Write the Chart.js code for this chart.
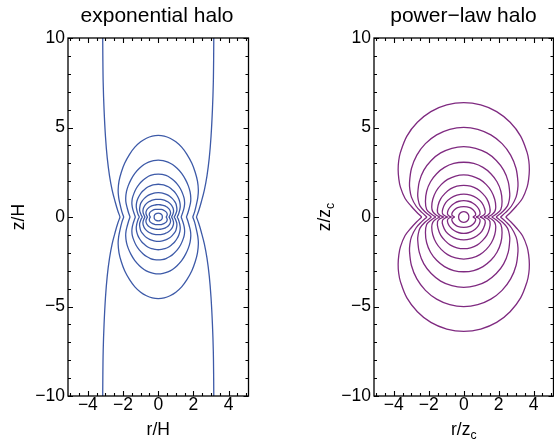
<!DOCTYPE html>
<html><head><meta charset="utf-8">
<script src="https://cdn.jsdelivr.net/npm/chart.js@4.4.1/dist/chart.umd.min.js"></script>
<style>
html,body{margin:0;padding:0;background:#fff;width:554px;height:445px;overflow:hidden}
.p{position:absolute;top:0;width:277px;height:445px}
canvas{display:block}
</style></head><body>
<div class="p" style="left:0"><canvas id="c1" width="277" height="445"></canvas></div>
<div class="p" style="left:277px"><canvas id="c2" width="277" height="445"></canvas></div>
<script>
// ---- tick labels ----
const xTicks = [-4, -2, 0, 2, 4];
const yTicks = [-10, -5, 0, 5, 10];

// ---- exponential halo: open contour (upper-right branch, from z=0 cusp upward) ----
const expOpen = [[2.17,0],[2.30,0.35],[2.45,0.85],[2.62,1.5],[2.77,2.3],[2.90,3.3],[3.00,4.5],[3.08,6.0],[3.13,7.5],[3.15,9.0],[3.16,10.6]];
// closed contours, upper-right quadrant, from cusp (r,0) to top (0,z)
const expRing1 = [[1.96,0],[2.07,0.30],[2.17,0.70],[2.25,1.10],[2.28,1.50],[2.23,2.00],[2.10,2.50],[1.91,3.00],[1.63,3.50],[1.33,3.90],[1.00,4.20],[0.67,4.40],[0.34,4.52],[0,4.56]];
const expRing2 = [[1.60,0],[1.68,0.21],[1.76,0.49],[1.83,0.77],[1.85,1.05],[1.81,1.40],[1.71,1.74],[1.55,2.09],[1.33,2.44],[1.07,2.72],[0.81,2.93],[0.55,3.07],[0.27,3.15],[0,3.18]];
const expRing3 = [[1.30,0],[1.36,0.16],[1.43,0.37],[1.48,0.58],[1.50,0.79],[1.47,1.05],[1.38,1.32],[1.26,1.58],[1.08,1.84],[0.87,2.05],[0.66,2.21],[0.44,2.32],[0.22,2.38],[0,2.40]];
const expRing4 = [[1.07,0],[1.14,0.12],[1.19,0.28],[1.23,0.44],[1.25,0.60],[1.23,0.80],[1.17,1.00],[1.07,1.20],[0.92,1.41],[0.75,1.56],[0.57,1.69],[0.38,1.77],[0.19,1.81],[0,1.83]];
const expRing5 = [[0.90,0],[0.96,0.09],[1.01,0.21],[1.05,0.33],[1.06,0.45],[1.04,0.60],[1.00,0.75],[0.92,0.89],[0.79,1.04],[0.65,1.16],[0.49,1.25],[0.33,1.31],[0.17,1.35],[0,1.36]];
const expRing6 = [[0.75,0],[0.79,0.065],[0.83,0.15],[0.86,0.24],[0.87,0.33],[0.86,0.43],[0.82,0.54],[0.76,0.65],[0.66,0.76],[0.54,0.85],[0.41,0.91],[0.28,0.955],[0.14,0.98],[0,0.99]];
const expRing7 = [[0.60,0],[0.64,0.046],[0.67,0.106],[0.69,0.166],[0.70,0.227],[0.69,0.30],[0.66,0.38],[0.61,0.45],[0.53,0.53],[0.43,0.59],[0.33,0.635],[0.22,0.666],[0.11,0.684],[0,0.69]];
const expRing8 = [[0.44,0],[0.48,0.05],[0.51,0.13],[0.49,0.22],[0.43,0.30],[0.32,0.37],[0.17,0.42],[0,0.43]];
const expRing9 = [[0.24,0],[0.21,0.11],[0.12,0.19],[0,0.22]];

// ---- power-law halo: closed contours, upper-right quadrant ----
const powRing1  = [[2.40,0],[2.70,0.28],[3.00,0.60],[3.36,1.05],[3.62,1.67],[3.71,2.12],[3.75,2.64],[3.72,3.13],[3.62,3.61],[3.25,4.52],[2.65,5.29],[1.88,5.89],[0.97,6.26],[0,6.39]];
const powRing2  = [[2.10,0],[2.40,0.26],[2.72,0.60],[2.99,1.11],[3.08,1.53],[3.10,1.91],[2.99,2.71],[2.68,3.46],[2.19,4.10],[1.55,4.59],[0.80,4.90],[0,5.01]];
const powRing3  = [[1.85,0],[2.20,0.28],[2.50,0.62],[2.61,1.00],[2.63,1.30],[2.54,1.98],[2.28,2.62],[1.86,3.16],[1.32,3.58],[0.68,3.84],[0,3.93]];
const powRing4  = [[1.60,0],[1.88,0.18],[2.12,0.42],[2.19,0.87],[2.12,1.44],[1.90,1.97],[1.55,2.42],[1.10,2.77],[0.57,2.99],[0,3.06]];
const powRing5  = [[1.37,0],[1.60,0.13],[1.77,0.30],[1.83,0.56],[1.77,0.99],[1.58,1.44],[1.29,1.81],[0.92,2.10],[0.47,2.29],[0,2.35]];
const powRing6  = [[1.15,0],[1.36,0.10],[1.50,0.26],[1.47,0.64],[1.32,1.01],[1.07,1.32],[0.76,1.57],[0.39,1.72],[0,1.77]];
const powRing7  = [[0.92,0],[1.10,0.08],[1.22,0.20],[1.20,0.45],[1.03,0.80],[0.74,1.06],[0.39,1.22],[0,1.28]];
const powRing8  = [[0.70,0],[0.84,0.06],[0.93,0.16],[0.90,0.36],[0.76,0.58],[0.53,0.77],[0.27,0.88],[0,0.91]];
const powRing9  = [[0.52,0],[0.62,0.05],[0.68,0.12],[0.65,0.26],[0.53,0.41],[0.35,0.53],[0,0.58]];
const powRing10 = [[0.30,0],[0.26,0.15],[0.15,0.26],[0,0.30]];

const expRings = [expRing1,expRing2,expRing3,expRing4,expRing5,expRing6,expRing7,expRing8,expRing9];
const powRings = [powRing1,powRing2,powRing3,powRing4,powRing5,powRing6,powRing7,powRing8,powRing9,powRing10];

const BLUE = '#3d5aa8';
const PURPLE = '#7f2a80';
const FONT = '"Liberation Sans", Arial, sans-serif';

function ds(points, color){
  return {data: points.map(p => ({x:p[0], y:p[1]})), showLine:true, borderColor:color,
          borderWidth:1.3, pointRadius:0, tension:0.35, fill:false};
}
// mirror a quadrant list into upper and lower halves (z symmetric, r symmetric)
function ringSets(q, color){
  const upper = q.concat(q.slice(0,-1).reverse().map(p => [-p[0], p[1]]));
  const lower = upper.map(p => [p[0], -p[1]]);
  return [ds(upper,color), ds(lower,color)];
}
function openSets(q, color){
  return [ds(q,color), ds(q.map(p=>[-p[0],p[1]]),color),
          ds(q.map(p=>[p[0],-p[1]]),color), ds(q.map(p=>[-p[0],-p[1]]),color)];
}

const fmt = v => (v < 0 ? '\u2212' + Math.abs(v) : String(v));

function drawLabel(ctx, main, sub, cx, base, size){
  ctx.font = size + 'px ' + FONT;
  const w1 = ctx.measureText(main).width;
  ctx.font = (size*0.7) + 'px ' + FONT;
  const w2 = sub ? ctx.measureText(sub).width : 0;
  const x0 = cx - (w1 + w2)/2;
  ctx.textAlign = 'left'; ctx.textBaseline = 'alphabetic';
  ctx.font = size + 'px ' + FONT;
  ctx.fillText(main, x0, base);
  if (sub){ ctx.font = (size*0.7) + 'px ' + FONT; ctx.fillText(sub, x0 + w1, base + 4); }
}

const framePlugin = {
  id: 'frame',
  afterDraw(chart, args, o){
    const {ctx, chartArea:a, scales:{x, y}} = chart;
    ctx.save();
    ctx.strokeStyle = '#000';
    ctx.lineWidth = 1.3;
    ctx.strokeRect(a.left, a.top, a.right - a.left, a.bottom - a.top);
    ctx.lineWidth = 1.1;
    ctx.beginPath();
    for (let i = -10; i <= 10; i++){
      const v = i/2; const px = Math.round(x.getPixelForValue(v)) + 0.5;
      const L = xTicks.includes(v) ? 5 : 3;
      ctx.moveTo(px, a.bottom); ctx.lineTo(px, a.bottom - L);
      ctx.moveTo(px, a.top); ctx.lineTo(px, a.top + L);
    }
    for (let v = -10; v <= 10; v++){
      const py = Math.round(y.getPixelForValue(v)) + 0.5;
      const L = yTicks.includes(v) ? 5 : 3;
      ctx.moveTo(a.left, py); ctx.lineTo(a.left + L, py);
      ctx.moveTo(a.right, py); ctx.lineTo(a.right - L, py);
    }
    ctx.stroke();
    ctx.fillStyle = '#000';
    ctx.font = '21px ' + FONT;
    ctx.textAlign = 'center'; ctx.textBaseline = 'alphabetic';
    ctx.fillText(o.title, o.titleX, 22);
    drawLabel(ctx, o.xLabel, o.xSub, (a.left + a.right)/2, 435, 17.5);
    ctx.save();
    ctx.translate(o.yLabelBase, (a.top + a.bottom)/2);
    ctx.rotate(-Math.PI/2);
    drawLabel(ctx, o.yLabel, o.ySub, 0, 0, 17.5);
    ctx.restore();
    ctx.restore();
  }
};

function makeChart(id, datasets, yWidth, padRight, frameOpts){
  return new Chart(document.getElementById(id), {
    type: 'scatter',
    data: {datasets},
    plugins: [framePlugin],
    options: {
      responsive: false, animation: false, devicePixelRatio: 1,
      layout: {padding: {top: 38, right: padRight, left: 0, bottom: 0}},
      plugins: {legend: {display: false}, tooltip: {enabled: false}, frame: frameOpts},
      scales: {
        x: {type: 'linear', min: -5.13, max: 5.13,
            afterBuildTicks: s => { s.ticks = xTicks.map(v => ({value: v})); },
            afterFit: s => { s.height = 49; },
            grid: {display: false, drawTicks: false}, border: {display: false},
            ticks: {color: '#000', padding: 0, font: {family: FONT, size: 17.5, lineHeight: 1}, callback: fmt, maxRotation: 0, autoSkip: false}},
        y: {type: 'linear', min: -10, max: 10,
            afterBuildTicks: s => { s.ticks = yTicks.map(v => ({value: v})); },
            afterFit: s => { s.width = yWidth; },
            grid: {display: false, drawTicks: false}, border: {display: false},
            ticks: {color: '#000', padding: 3, font: {family: FONT, size: 17.5, lineHeight: 1}, callback: fmt, autoSkip: false}}
      }
    }
  });
}

const expSets = openSets(expOpen, BLUE);
expRings.forEach(q => expSets.push(...ringSets(q, BLUE)));
const powSets = [];
powRings.forEach(q => powSets.push(...ringSets(q, PURPLE)));

makeChart('c1', expSets, 68, 28.5,
  {title: 'exponential halo', titleX: 157, xLabel: 'r/H', xSub: '', yLabel: 'z/H', ySub: '', yLabelBase: 24});
makeChart('c2', powSets, 97, 0.5,
  {title: 'power\u2212law halo', titleX: 186.5, xLabel: 'r/z', xSub: 'c', yLabel: 'z/z', ySub: 'c', yLabelBase: 53});
</script>
</body></html>
